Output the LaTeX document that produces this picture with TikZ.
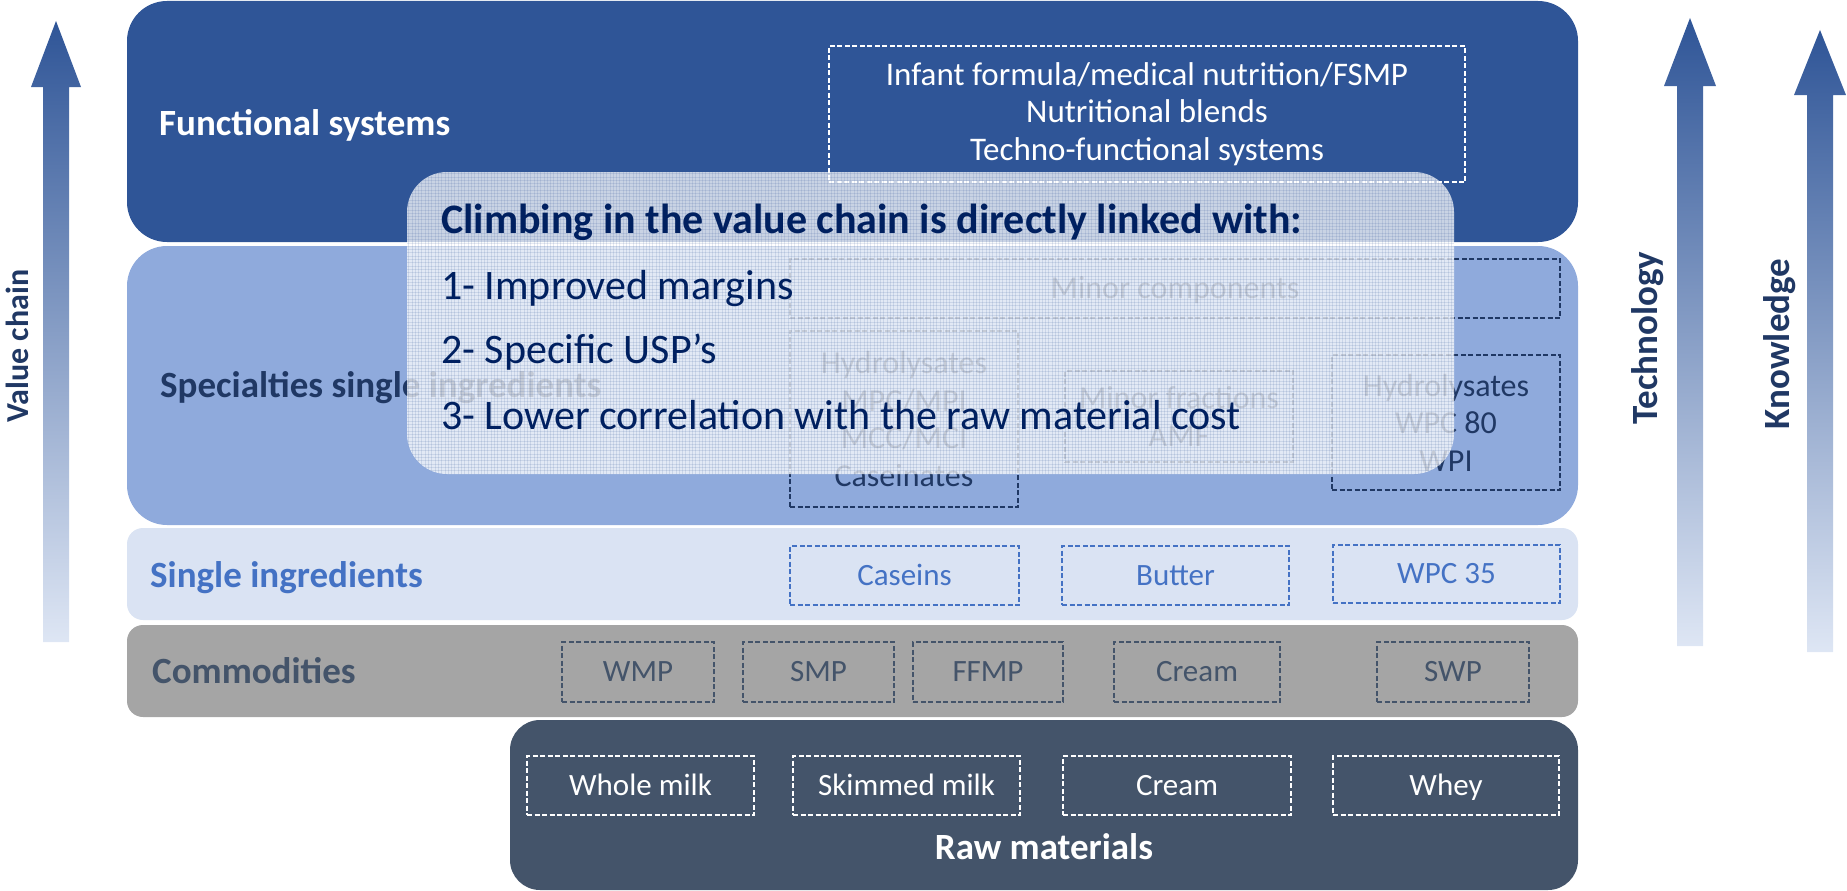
\documentclass[tikz,border=0pt]{standalone}
\usepackage{fontspec}
\setmainfont{Carlito}

\definecolor{fsblue}{HTML}{2F5597}
\definecolor{specblue}{HTML}{8FAADC}
\definecolor{singleblue}{HTML}{DAE3F3}
\definecolor{commgrey}{HTML}{A5A5A5}
\definecolor{rawslate}{HTML}{44546A}
\definecolor{navy}{HTML}{203864}
\definecolor{accent}{HTML}{4472C4}
\definecolor{deepnavy}{HTML}{002060}
\definecolor{arrowtop}{HTML}{2F5597}
\definecolor{arrowbot}{HTML}{DEE6F4}

\tikzset{
  band/.style={rectangle, rounded corners=#1, inner sep=0pt, draw=none},
  itembox/.style={rectangle, inner sep=0pt, draw=#1, text=#1,
    dash pattern=on 5pt off 2.5pt, line width=1.6pt, align=center,
    font=\fontsize{31pt}{37.5pt}\selectfont},
  bigitem/.style={font=\fontsize{32pt}{37.5pt}\selectfont},
  fsitem/.style={font=\fontsize{33pt}{37.5pt}\selectfont},
  oneline/.style={text height=23pt, text depth=3.4pt},
  bandtitle/.style={anchor=base west, inner sep=0pt,
    font=\fontsize{37pt}{44pt}\selectfont\bfseries},
  sidelabel/.style={rotate=90, inner sep=0pt, text=navy,
    font=\fontsize{37pt}{44pt}\selectfont\bfseries},
  climbtext/.style={anchor=base west, inner sep=0pt, text=deepnavy,
    font=\fontsize{42pt}{50pt}\selectfont},
  upshade/.style={top color=arrowtop, bottom color=arrowbot, draw=none},
  meshline/.style={draw=fsblue, draw opacity=0.13, line width=0.6pt},
}

\begin{document}
\begin{tikzpicture}[x=1pt, y=-1pt]
\useasboundingbox (0,0) rectangle (1847,891);

% side arrows
\shade[upshade] (43,642) -- (43,87) -- (31,87) -- (56,21) -- (81,87)
  -- (69,87) -- (69,642) -- cycle;
\shade[upshade] (1677,646) -- (1677,86) -- (1664,86) -- (1690,18)
  -- (1716,86) -- (1703,86) -- (1703,646) -- cycle;
\shade[upshade] (1807,652) -- (1807,95) -- (1794,95) -- (1820,30)
  -- (1846,95) -- (1833,95) -- (1833,652) -- cycle;

\node[sidelabel, font=\fontsize{32pt}{40pt}\selectfont\bfseries] (vclabel)
  at (17.5,346) {Value chain};
\node[sidelabel] (techlabel) at (1648,338) {Technology};
\node[sidelabel] (knowlabel) at (1780,344) {Knowledge};

% bands of the value chain
\node[band=40pt, fill=fsblue, minimum width=1451pt, minimum height=241pt]
  (fs) at (852.5,121.5) {};
\node[band=40pt, fill=specblue, minimum width=1451pt, minimum height=279pt]
  (spec) at (852.5,385.5) {};
\node[band=16pt, fill=singleblue, minimum width=1451pt, minimum height=92pt]
  (single) at (852.5,574) {};
\node[band=16pt, fill=commgrey, minimum width=1451pt, minimum height=92pt]
  (comm) at (852.5,671) {};
\node[band=30pt, fill=rawslate, minimum width=1068pt, minimum height=170pt]
  (raw) at (1044,805) {};

% functional systems
\node[bandtitle, text=white] (fstitle) at (159,135) {Functional systems};
\node[itembox=white, fsitem, minimum width=636pt, minimum height=136pt] (fsitems)
  at (1147,114) {Infant formula/medical nutrition/FSMP\\Nutritional blends\\Techno-functional systems};

% specialties single ingredients
\node[bandtitle, text=navy] (spectitle) at (160,397) {Specialties single ingredients};
\node[itembox=navy, bigitem, oneline, minimum width=770pt, minimum height=59pt] (minorcomp)
  at (1175,288.5) {Minor components};
\node[itembox=navy, bigitem, minimum width=228pt, minimum height=176pt] (caseinspec)
  at (904,419) {Hydrolysates\\MPC/MPI\\MCC/MCI\\Caseinates};
\node[itembox=navy, bigitem, minimum width=228pt, minimum height=91pt] (minorfrac)
  at (1179,416.5) {Minor fractions\\AMF};
\node[itembox=navy, bigitem, minimum width=228pt, minimum height=135pt] (wheyspec)
  at (1446,422.5) {Hydrolysates\\WPC 80\\WPI};

% single ingredients
\node[bandtitle, text=accent] (singletitle) at (150,587) {Single ingredients};
\node[itembox=accent, oneline, minimum width=229pt, minimum height=59pt] (caseins)
  at (904.5,575.5) {Caseins};
\node[itembox=accent, oneline, minimum width=227pt, minimum height=59pt] (butter)
  at (1175.5,575.5) {Butter};
\node[itembox=accent, oneline, minimum width=227pt, minimum height=58pt] (wpc35)
  at (1446.5,574) {WPC 35};

% commodities
\node[bandtitle, text=rawslate] (commtitle) at (152,683) {Commodities};
\node[itembox=rawslate, oneline, minimum width=152pt, minimum height=60pt] (wmp)
  at (638,672) {WMP};
\node[itembox=rawslate, oneline, minimum width=151pt, minimum height=60pt] (smp)
  at (818.5,672) {SMP};
\node[itembox=rawslate, oneline, minimum width=150pt, minimum height=60pt] (ffmp)
  at (988,672) {FFMP};
\node[itembox=rawslate, oneline, minimum width=166pt, minimum height=60pt] (creamc)
  at (1197,672) {Cream};
\node[itembox=rawslate, oneline, minimum width=152pt, minimum height=60pt] (swp)
  at (1453,672) {SWP};

% raw materials
\node[itembox=white, oneline, minimum width=227pt, minimum height=59pt] (wholemilk)
  at (640.5,785.5) {Whole milk};
\node[itembox=white, oneline, minimum width=227pt, minimum height=59pt] (skimmilk)
  at (906.5,785.5) {Skimmed milk};
\node[itembox=white, oneline, minimum width=228pt, minimum height=59pt] (creamr)
  at (1177,785.5) {Cream};
\node[itembox=white, oneline, minimum width=226pt, minimum height=59pt] (wheyr)
  at (1446,785.5) {Whey};
\node[anchor=base, inner sep=0pt, text=white,
  font=\fontsize{37pt}{44pt}\selectfont\bfseries] (rawtitle) at (1044,859) {Raw materials};

% translucent call-out with a fine mesh
\node[band=40pt, fill=white, fill opacity=0.74, minimum width=1047pt,
  minimum height=302pt] (callout) at (930.5,323) {};
\begin{scope}
  \clip[rounded corners=40pt] (callout.north west) rectangle (callout.south east);
  \foreach \gx in {408.5,411.8,...,1454} \draw[meshline] (\gx,172) -- (\gx,475);
  \foreach \gy in {173.5,176.8,...,475} \draw[meshline] (407,\gy) -- (1455,\gy);
\end{scope}
\node[climbtext, font=\fontsize{42pt}{50pt}\selectfont\bfseries] (climb)
  at (441,233) {Climbing in the value chain is directly linked with:};
\node[climbtext] (margins) at (441,299) {1- Improved margins};
\node[climbtext] (usp) at (441,363) {2- Specific USP’s};
\node[climbtext] (corr) at (441,429) {3- Lower correlation with the raw material cost};
\end{tikzpicture}
\end{document}
